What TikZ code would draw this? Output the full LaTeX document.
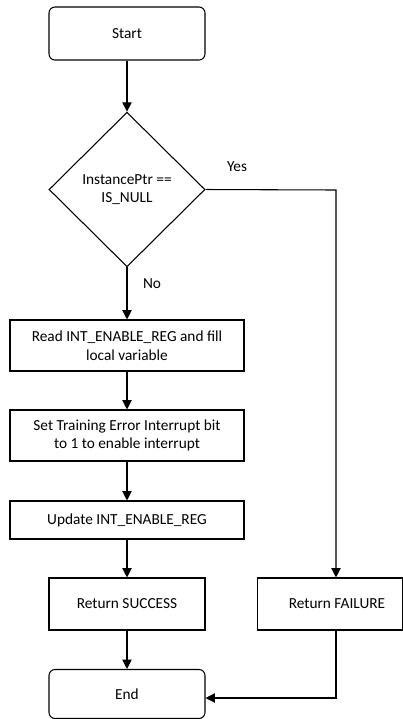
\documentclass[tikz,border=0pt]{standalone}
\usepackage{fontspec}
\setmainfont{Carlito}
\usetikzlibrary{shapes.geometric,arrows.meta}
\begin{document}
\begin{tikzpicture}[x=0.75pt,y=-0.75pt,
  every node/.style={font=\fontsize{11.5}{14}\selectfont, align=center, inner sep=0pt},
  term/.style={draw, line width=0.8pt, rounded corners=4.5pt, minimum width=117pt},
  procbox/.style={draw, line width=0.8pt, minimum width=175.5pt},
  decbox/.style={draw, line width=0.8pt, diamond, aspect=1, minimum width=117pt, minimum height=116pt},
  flow/.style={draw, line width=0.8pt, -{Triangle[width=7pt,length=7pt]}},
  lbl/.style={font=\fontsize{11.5}{14}\selectfont}]
\useasboundingbox (0,0) rectangle (403,719);
\node[term, minimum height=39.75pt] (start) at (127,33.5) {Start};
\node[decbox] (dec) at (127,189.5) {InstancePtr ==\\IS\_NULL};
\node[procbox, minimum height=38.25pt] (read) at (127,345.5) {Read INT\_ENABLE\_REG and fill\\local variable};
\node[procbox, minimum height=38.25pt] (set) at (127,435.5) {Set Training Error Interrupt bit\\to 1 to enable interrupt};
\node[procbox, minimum height=28.5pt] (upd) at (127,520) {Update INT\_ENABLE\_REG};
\node[term, rounded corners=0pt, minimum height=39pt] (succ) at (127,604) {Return SUCCESS};
\node[draw, line width=0.8pt, minimum width=108.75pt, minimum height=39pt] (fail) at (330,604) {\hspace*{10.5pt}Return FAILURE};
\node[term, minimum height=36.75pt] (fin) at (127,694) {End};
\coordinate (corner) at (336,190);
\node[lbl] (yes) at (237,167) {Yes};
\node[lbl] (no) at (152,284) {No};
\draw[flow] (start) -- (dec);
\draw[flow] (dec) -- (read);
\draw[flow] (read) -- (set);
\draw[flow] (set) -- (upd);
\draw[flow] (upd) -- (succ);
\draw[flow] (succ) -- (fin);
\draw[flow] (dec.east) -- (corner) -- (corner |- fail.north);
\draw[flow] (corner |- fail.south) |- ([yshift=-3pt]fin.east);
\end{tikzpicture}
\end{document}
